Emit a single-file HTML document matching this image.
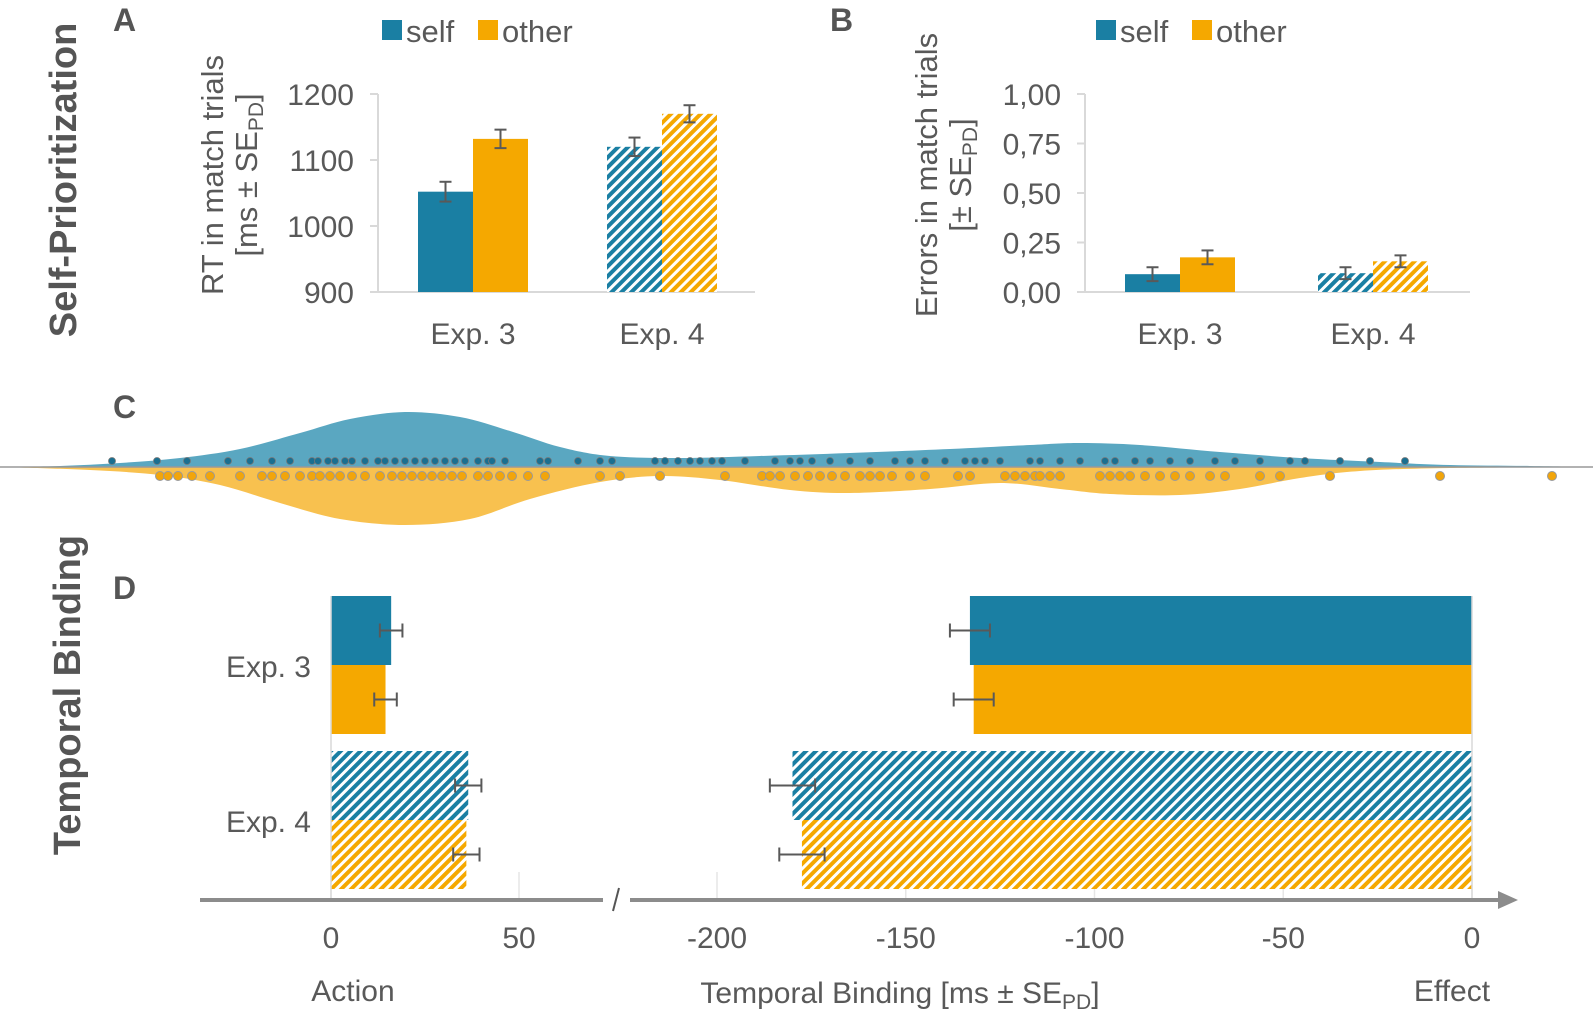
<!DOCTYPE html>
<html><head><meta charset="utf-8">
<style>
html,body{margin:0;padding:0;background:#fff;}
svg{display:block;font-family:"Liberation Sans",Arial,sans-serif;}
</style></head>
<body>
<svg id="fig" width="1593" height="1030" viewBox="0 0 1593 1030" xmlns="http://www.w3.org/2000/svg">
<defs>
<pattern id="hatchBlue" patternUnits="userSpaceOnUse" width="7" height="7" patternTransform="rotate(45)">
<rect width="7" height="7" fill="#fff"/><rect width="4" height="7" fill="#1a7fa3"/></pattern>
<pattern id="hatchOrange" patternUnits="userSpaceOnUse" width="7" height="7" patternTransform="rotate(45)">
<rect width="7" height="7" fill="#fff"/><rect width="4" height="7" fill="#f5a800"/></pattern>
</defs>
<g><text transform="translate(76,180) rotate(-90)" text-anchor="middle" font-size="38" font-weight="bold" fill="#555">Self-Prioritization</text></g>
<g><text transform="translate(80,695) rotate(-90)" text-anchor="middle" font-size="38" font-weight="bold" fill="#555">Temporal Binding</text></g>
<text x="113" y="31" font-size="32" font-weight="bold" fill="#555">A</text>
<text x="830" y="31" font-size="32" font-weight="bold" fill="#555">B</text>
<text x="113" y="418" font-size="32" font-weight="bold" fill="#555">C</text>
<text x="113" y="599" font-size="32" font-weight="bold" fill="#555">D</text>
<g id="gA"></g>
<g id="gB"></g>
<g id="gC"></g>
<g id="gD"></g>
</svg>
<script>
const NS="http://www.w3.org/2000/svg";
const BLUE="#1a7fa3", ORANGE="#f5a800", GREY="#595959";
const FS=30;
// Panel A data
const aTicks=[900,1000,1100,1200];
const aSelf=[1052,1120];
const aOther=[1132,1170];
const aSelfErr=[15,14];
const aOtherErr=[14,13];
// Panel B data
const bTickLabels=["0,00","0,25","0,50","0,75","1,00"];
const bTicks=[0,0.25,0.5,0.75,1];
const bSelf=[0.09,0.095];
const bOther=[0.175,0.155];
const bSelfErr=[0.035,0.03];
const bOtherErr=[0.035,0.03];
const expLabels=["Exp. 3","Exp. 4"];
// Panel C data (x positions in figure units, density heights)
const cPos=[0,60,120,180,240,300,350,405,460,510,560,610,680,760,850,950,1030,1080,1140,1220,1300,1380,1450,1530,1593];
const cSelfDensity=[0,1,4,9,18,34,48,55,50,36,20,11,9,11,14,18,22,24,22,15,9,5,2,1,0];
const cPosO=[0,90,160,220,280,340,405,470,530,600,660,720,790,850,930,1000,1060,1110,1180,1240,1300,1360,1450,1593];
const cOtherDensity=[0,3,8,18,36,52,58,52,32,15,9,13,23,26,22,16,22,27,28,22,11,4,1,0];
const cSelfDots=[112,157,187,228,250,272,290,312,318,328,335,345,352,365,378,385,395,405,415,425,435,445,455,465,478,488,492,505,540,548,578,600,612,655,665,678,690,700,712,722,745,775,790,800,812,830,850,870,895,910,925,945,965,975,985,1000,1030,1040,1060,1080,1105,1115,1135,1150,1170,1190,1215,1235,1260,1290,1305,1340,1370,1405];
const cOtherDots=[160,168,178,192,210,240,262,272,285,300,312,320,330,340,352,365,380,392,402,412,422,432,442,452,462,478,488,500,512,528,545,600,620,660,725,762,770,780,795,808,820,832,845,860,870,880,892,910,925,958,970,1005,1015,1025,1035,1040,1050,1060,1100,1110,1120,1130,1145,1160,1175,1190,1210,1225,1260,1280,1330,1440,1552];
// Panel D data
const dLeftTicks=[0,50];
const dRightTicks=[-200,-150,-100,-50,0];
const dActionSelf=[16,36.5];
const dActionOther=[14.5,36];
const dActionSelfErr=[3,3.5];
const dActionOtherErr=[3,3.5];
const dEffectSelf=[-133,-180];
const dEffectOther=[-132,-177.5];
const dEffectSelfErr=[5.3,6];
const dEffectOtherErr=[5.3,6];

function el(parent,tag,attrs,txt){const e=document.createElementNS(NS,tag);for(const k in attrs)e.setAttribute(k,attrs[k]);if(txt!==undefined)e.textContent=txt;parent.appendChild(e);return e;}
function errV(g,x,y1,y2){
 el(g,"line",{x1:x,x2:x,y1:y1,y2:y2,stroke:GREY,"stroke-width":2});
 el(g,"line",{x1:x-6,x2:x+6,y1:y1,y2:y1,stroke:GREY,"stroke-width":2});
 el(g,"line",{x1:x-6,x2:x+6,y1:y2,y2:y2,stroke:GREY,"stroke-width":2});
}
function errH(g,y,x1,x2){
 el(g,"line",{x1:x1,x2:x2,y1:y,y2:y,stroke:GREY,"stroke-width":2});
 el(g,"line",{x1:x1,x2:x1,y1:y-7,y2:y+7,stroke:GREY,"stroke-width":2});
 el(g,"line",{x1:x2,x2:x2,y1:y-7,y2:y+7,stroke:GREY,"stroke-width":2});
}
function legend(g,x){
 let r=el(g,"rect",{x:x,y:20,width:20,height:20,fill:BLUE});
 
 
 let t=el(g,"text",{x:x+24,y:42,"font-size":31,fill:GREY},"self");
 
 
 r=el(g,"rect",{x:x+96,y:20,width:20,height:20,fill:ORANGE});
 
 
 t=el(g,"text",{x:x+120,y:42,"font-size":31,fill:GREY},"other");
 
 
}
function barPanel(g,opt){
 const {x0,x1,y0,y1,dmin,dmax,ticks,labels,self,other,selfErr,otherErr,groupX,bw}=opt;
 const ys=v=>y0-(v-dmin)/(dmax-dmin)*(y0-y1);
 el(g,"line",{x1:x0,x2:x0,y1:y1,y2:y0,stroke:"#d9d9d9","stroke-width":2});
 el(g,"line",{x1:x0,x2:x1,y1:y0,y2:y0,stroke:"#d9d9d9","stroke-width":2});
 ticks.forEach((t,i)=>{
  el(g,"line",{x1:x0-8,x2:x0,y1:ys(t),y2:ys(t),stroke:"#d9d9d9","stroke-width":2});
  const tx=el(g,"text",{x:x0-24,y:ys(t)+11,"text-anchor":"end","font-size":FS,fill:GREY},labels[i]);
  
  
 });
 for(let i=0;i<2;i++){
  const cx=groupX[i];
  const fs=i===0?BLUE:"url(#hatchBlue)", fo=i===0?ORANGE:"url(#hatchOrange)";
  let b=el(g,"rect",{x:cx-bw,y:ys(self[i]),width:bw,height:y0-ys(self[i]),fill:fs});
  
  
  b=el(g,"rect",{x:cx,y:ys(other[i]),width:bw,height:y0-ys(other[i]),fill:fo});
  
  
  errV(g,cx-bw/2,ys(self[i]+selfErr[i]),ys(self[i]-selfErr[i]));
  errV(g,cx+bw/2,ys(other[i]+otherErr[i]),ys(other[i]-otherErr[i]));
  const t=el(g,"text",{x:cx,y:y0+52,"text-anchor":"middle","font-size":FS,fill:GREY},expLabels[i]);
  
  
 }
}
// Panel A
const gA=document.getElementById("gA");
barPanel(gA,{x0:378,x1:755,y0:292,y1:94,dmin:900,dmax:1200,ticks:aTicks,labels:aTicks.map(String),self:aSelf,other:aOther,selfErr:aSelfErr,otherErr:aOtherErr,groupX:[473,662],bw:55});
legend(gA,382);
let yt=el(gA,"text",{transform:"translate(223,175) rotate(-90)","text-anchor":"middle","font-size":31,fill:GREY},"RT in match trials");


yt=el(gA,"text",{transform:"translate(257,175) rotate(-90)","text-anchor":"middle","font-size":31,fill:GREY});
yt.innerHTML='[ms ± SE<tspan font-size="21" dy="6">PD</tspan><tspan dy="-6">]</tspan>';


// Panel B
const gB=document.getElementById("gB");
barPanel(gB,{x0:1085,x1:1470,y0:292,y1:94,dmin:0,dmax:1,ticks:bTicks,labels:bTickLabels,self:bSelf,other:bOther,selfErr:bSelfErr,otherErr:bOtherErr,groupX:[1180,1373],bw:55});
legend(gB,1096);
yt=el(gB,"text",{transform:"translate(937,175) rotate(-90)","text-anchor":"middle","font-size":31,fill:GREY},"Errors in match trials");


yt=el(gB,"text",{transform:"translate(971,175) rotate(-90)","text-anchor":"middle","font-size":31,fill:GREY});
yt.innerHTML='[± SE<tspan font-size="21" dy="6">PD</tspan><tspan dy="-6">]</tspan>';


// Panel C
const gC=document.getElementById("gC");
const base=467;
function smoothPath(xs,hs,sign){
 const P=xs.map((x,i)=>[x,base+sign*hs[i]]);
 let d="M"+xs[0]+","+base+" L"+P[0][0]+","+P[0][1];
 for(let i=0;i<P.length-1;i++){
  const p0=P[i>0?i-1:0],p1=P[i],p2=P[i+1],p3=P[i+2<P.length?i+2:i+1];
  const c1=[p1[0]+(p2[0]-p0[0])/6,p1[1]+(p2[1]-p0[1])/6];
  const c2=[p2[0]-(p3[0]-p1[0])/6,p2[1]-(p3[1]-p1[1])/6];
  d+=" C"+c1[0]+","+c1[1]+" "+c2[0]+","+c2[1]+" "+p2[0]+","+p2[1];
 }
 d+=" L"+xs[xs.length-1]+","+base+" Z";return d;
}
let p=el(gC,"path",{d:smoothPath(cPos,cSelfDensity,-1),fill:"#5aa7c1"});


p=el(gC,"path",{d:smoothPath(cPosO,cOtherDensity,1),fill:"#f8c14f"});


el(gC,"line",{x1:0,x2:1593,y1:base,y2:base,stroke:"#999","stroke-width":1.5});
cSelfDots.forEach(x=>{
 const c=el(gC,"circle",{cx:x,cy:base-6,r:3.5,fill:"#1a6f90",stroke:"#777","stroke-width":0.8});
 
 
});
cOtherDots.forEach(x=>{
 const c=el(gC,"circle",{cx:x,cy:base+9,r:4.5,fill:"#f2a50a",stroke:"#999","stroke-width":1});
 
 
});
// Panel D
const gD=document.getElementById("gD");
const xl=v=>331+v*3.76;
const xr=v=>1472+v*3.775;
const rowTop=[596,751], bh=69, axisY=900;
dLeftTicks.forEach(t=>el(gD,"line",{x1:xl(t),x2:xl(t),y1:872,y2:axisY,stroke:"#e6e6e6","stroke-width":1.5}));
dRightTicks.forEach(t=>el(gD,"line",{x1:xr(t),x2:xr(t),y1:872,y2:axisY,stroke:"#e6e6e6","stroke-width":1.5}));
for(let i=0;i<2;i++){
 const fs=i===0?BLUE:"url(#hatchBlue)", fo=i===0?ORANGE:"url(#hatchOrange)";
 const ySelf=rowTop[i], yOther=rowTop[i]+bh;
 let b=el(gD,"rect",{x:xl(0),y:ySelf,width:xl(dActionSelf[i])-xl(0),height:bh,fill:fs});
 
 
 b=el(gD,"rect",{x:xl(0),y:yOther,width:xl(dActionOther[i])-xl(0),height:bh,fill:fo});
 
 
 b=el(gD,"rect",{x:xr(dEffectSelf[i]),y:ySelf,width:xr(0)-xr(dEffectSelf[i]),height:bh,fill:fs});
 
 
 b=el(gD,"rect",{x:xr(dEffectOther[i]),y:yOther,width:xr(0)-xr(dEffectOther[i]),height:bh,fill:fo});
 
 
 errH(gD,ySelf+bh/2,xl(dActionSelf[i]-dActionSelfErr[i]),xl(dActionSelf[i]+dActionSelfErr[i]));
 errH(gD,yOther+bh/2,xl(dActionOther[i]-dActionOtherErr[i]),xl(dActionOther[i]+dActionOtherErr[i]));
 errH(gD,ySelf+bh/2,xr(dEffectSelf[i]-dEffectSelfErr[i]),xr(dEffectSelf[i]+dEffectSelfErr[i]));
 errH(gD,yOther+bh/2,xr(dEffectOther[i]-dEffectOtherErr[i]),xr(dEffectOther[i]+dEffectOtherErr[i]));
 const t=el(gD,"text",{x:311,y:ySelf+bh+12,"text-anchor":"end","font-size":FS,fill:GREY},expLabels[i]);
 
 
}
el(gD,"line",{x1:331,x2:331,y1:596,y2:axisY,stroke:"#d9d9d9","stroke-width":1.5});
el(gD,"line",{x1:1472,x2:1472,y1:596,y2:axisY,stroke:"#d9d9d9","stroke-width":1.5});
let ax=el(gD,"line",{x1:200,x2:603,y1:axisY,y2:axisY,stroke:"#8c8c8c","stroke-width":4});


ax=el(gD,"line",{x1:630,x2:1500,y1:axisY,y2:axisY,stroke:"#8c8c8c","stroke-width":4});


let ar=el(gD,"polygon",{points:"1498,891 1518,900 1498,909",fill:"#8c8c8c"});


el(gD,"line",{x1:619,x2:613,y1:888,y2:911,stroke:"#555","stroke-width":2});
dLeftTicks.forEach(t=>{
 const tx=el(gD,"text",{x:xl(t),y:948,"text-anchor":"middle","font-size":FS,fill:GREY},String(t));
 
 
});
dRightTicks.forEach(t=>{
 const tx=el(gD,"text",{x:xr(t),y:948,"text-anchor":"middle","font-size":FS,fill:GREY},String(t));
 
 
});
let lb=el(gD,"text",{x:353,y:1001,"text-anchor":"middle","font-size":FS,fill:GREY},"Action");


lb=el(gD,"text",{x:1452,y:1001,"text-anchor":"middle","font-size":FS,fill:GREY},"Effect");


lb=el(gD,"text",{x:900,y:1003,"text-anchor":"middle","font-size":FS,fill:GREY});
lb.innerHTML='Temporal Binding [ms ± SE<tspan font-size="21" dy="6">PD</tspan><tspan dy="-6">]</tspan>';


</script>
</body></html>
